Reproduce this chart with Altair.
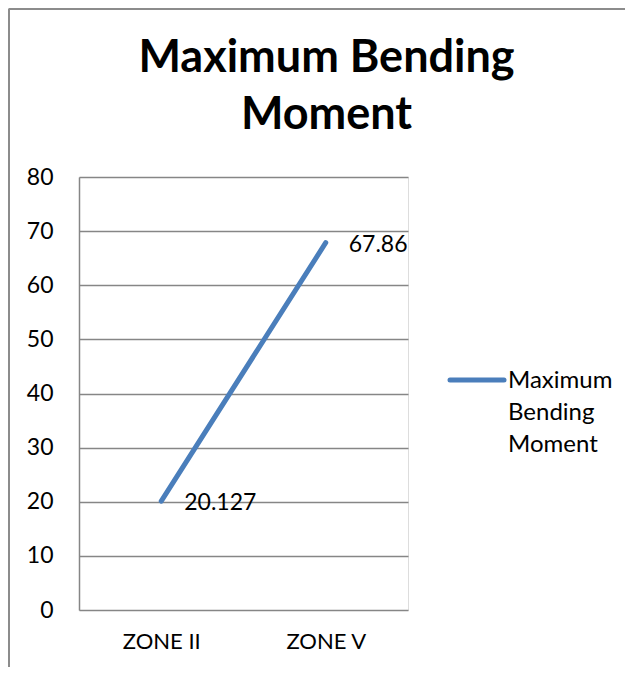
import altair as alt
import pandas as pd

categories = ["ZONE II", "ZONE V"]
values = [20.127, 67.86]
value_labels = ["20.127", "67.86"]
series_name = "Maximum Bending Moment"
y_ticks = [0, 10, 20, 30, 40, 50, 60, 70, 80]

df = pd.DataFrame({
    "zone": categories,
    "value": values,
    "label": value_labels,
    "series": [series_name] * len(categories),
})

FONT = "Lato"
W, H = 329, 433
PAD_L, PAD_T = 71, 169
GRID = "#868686"
LINE = "#4A7EBB"

x_enc = alt.X(
    "zone:N", sort=categories,
    scale=alt.Scale(type="point", padding=0.5),
    axis=alt.Axis(title=None, labelAngle=0, labelFontSize=22, labelPadding=21,
                  labelColor="black", labelFont=FONT,
                  domain=False, ticks=False, grid=False),
)
y_enc = alt.Y(
    "value:Q",
    scale=alt.Scale(domain=[0, 80], nice=False, zero=True),
    axis=alt.Axis(title=None, values=y_ticks, labelFontSize=23, labelPadding=26,
                  labelColor="black", labelFont=FONT,
                  grid=True, gridColor=GRID, gridWidth=1.5,
                  domain=True, domainColor=GRID, domainWidth=1.5, ticks=False),
)

line = alt.Chart(df).mark_line(strokeWidth=5, strokeCap="round", color=LINE).encode(
    x=x_enc,
    y=y_enc,
)

text = alt.Chart(df).mark_text(align="left", baseline="middle", dx=23, dy=2,
                               fontSize=23, font=FONT, color="black").encode(
    x=alt.X("zone:N", sort=categories),
    y=alt.Y("value:Q"),
    text="label:N",
)

# legend (single series), drawn as a small key
legend_df = pd.DataFrame({"series": [series_name]})
legend_key = alt.Chart(legend_df).mark_rule(strokeWidth=5, strokeCap="round", color=LINE).encode(
    x=alt.value(371), x2=alt.value(425), y=alt.value(203)
)
legend_text = alt.Chart(legend_df).transform_calculate(
    lines="split(datum.series, ' ')"
).mark_text(align="left", baseline="top", fontSize=24, font=FONT,
            color="black", lineHeight=32).encode(
    x=alt.value(429), y=alt.value(192), text="lines:N"
)

frame_df = pd.DataFrame({"k": [0]})
frame_left = alt.Chart(frame_df).mark_rule(color="#8c8c8c", strokeWidth=2).encode(
    x=alt.value(-PAD_L + 1), y=alt.value(-PAD_T + 0.5), y2=alt.value(H + 80)
)
frame_top = alt.Chart(frame_df).mark_rule(color="#8c8c8c", strokeWidth=2).encode(
    x=alt.value(-PAD_L + 1), x2=alt.value(W + 230), y=alt.value(-PAD_T + 1)
)

chart = alt.layer(frame_left, frame_top, line, text, legend_key, legend_text).properties(
    width=W, height=H,
    autosize=alt.AutoSizeParams(type="none"),
    padding={"left": PAD_L, "top": PAD_T, "right": 217, "bottom": 57},
    title=alt.TitleParams(
        ["Maximum Bending", "Moment"], anchor="middle", frame="group",
        dx=83, offset=-130, baseline="top", fontSize=45, fontWeight="bold",
        font=FONT, color="black", lineHeight=57,
    ),
).configure_view(stroke=None).configure(background="white")

chart.save("out.html", embed_options={"renderer": "svg", "actions": False})
